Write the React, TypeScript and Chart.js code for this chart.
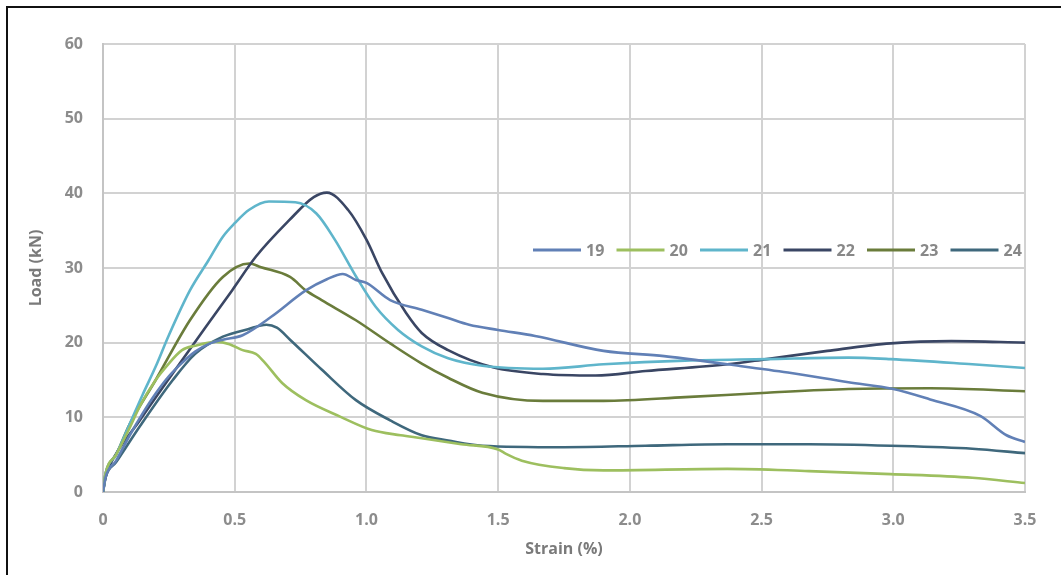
import React, { useEffect, useRef } from "react";
import { Chart, registerables } from "chart.js";

Chart.register(...registerables);

const seriesLabels = ["19", "20", "21", "22", "23", "24"];
const seriesColors = ["#6180b6", "#9dbf5f", "#5fb5cb", "#3a4664", "#6a7c3b", "#3f687c"];

const strain19 = [0, 0.01, 0.05, 0.1, 0.15, 0.2, 0.25, 0.3, 0.35, 0.4, 0.455, 0.53, 0.64, 0.77, 0.85, 0.91, 0.96, 1.0, 1.09, 1.21, 1.31, 1.39, 1.5, 1.64, 1.9, 2.13, 2.37, 2.6, 2.83, 3.0, 3.14, 3.33, 3.43, 3.5];
const load19 = [0, 2, 4.2, 7.5, 10.5, 13.2, 15.5, 17.3, 18.8, 19.8, 20.4, 21, 23.5, 27, 28.5, 29.2, 28.4, 28, 25.7, 24.4, 23.3, 22.4, 21.7, 20.9, 18.9, 18.2, 17.1, 16, 14.7, 13.8, 12.4, 10.2, 7.6, 6.7];

const strain20 = [0, 0.01, 0.05, 0.1, 0.14, 0.2, 0.24, 0.3, 0.35, 0.43, 0.48, 0.53, 0.58, 0.61, 0.68, 0.77, 0.9, 1.02, 1.13, 1.21, 1.36, 1.5, 1.53, 1.59, 1.75, 1.9, 2.37, 2.68, 2.99, 3.3, 3.5];
const load20 = [0, 2.5, 5, 8.5, 11.5, 15, 16.8, 19, 19.6, 20.1, 19.8, 19, 18.5, 17.5, 14.6, 12.3, 10.1, 8.3, 7.6, 7.2, 6.4, 5.7, 5.1, 4.2, 3.2, 2.9, 3.1, 2.8, 2.4, 1.9, 1.2];

const strain21 = [0, 0.01, 0.05, 0.1, 0.15, 0.2, 0.25, 0.33, 0.4, 0.455, 0.5, 0.555, 0.63, 0.73, 0.81, 0.88, 0.96, 1.035, 1.12, 1.21, 1.31, 1.44, 1.67, 1.9, 2.21, 2.52, 2.83, 2.99, 3.3, 3.5];
const load21 = [0, 2.5, 5, 9, 13, 16.8, 21, 27, 31, 34.2, 36, 37.8, 38.9, 38.8, 37.3, 33.8, 28.9, 24.8, 21.7, 19.5, 17.9, 16.9, 16.5, 17.1, 17.6, 17.8, 18, 17.8, 17.1, 16.6];

const strain22 = [0, 0.01, 0.025, 0.14, 0.265, 0.39, 0.49, 0.58, 0.707, 0.8, 0.85, 0.93, 1.0, 1.06, 1.15, 1.21, 1.31, 1.48, 1.67, 1.87, 2.06, 2.37, 2.52, 2.75, 2.99, 3.22, 3.5];
const load22 = [0, 2, 3.5, 9.6, 15.9, 22.1, 27, 31.5, 36.4, 39.5, 40.1, 37.8, 33.8, 29.3, 24, 21.3, 19, 16.7, 15.8, 15.6, 16.2, 17.1, 17.8, 18.9, 19.9, 20.2, 20.0];

const strain23 = [0, 0.01, 0.05, 0.1, 0.2, 0.33, 0.455, 0.555, 0.6, 0.71, 0.77, 0.83, 0.96, 1.09, 1.21, 1.31, 1.44, 1.67, 1.9, 2.21, 2.52, 2.83, 3.14, 3.5];
const load23 = [0, 2.5, 5, 9, 15, 23, 28.8, 30.6, 30.1, 28.8, 27, 25.7, 23, 19.9, 17.2, 15.3, 13.3, 12.2, 12.2, 12.7, 13.3, 13.8, 13.9, 13.5];

const strain24 = [0, 0.01, 0.05, 0.14, 0.265, 0.35, 0.455, 0.55, 0.62, 0.66, 0.71, 0.83, 0.96, 1.09, 1.21, 1.31, 1.44, 1.75, 2.06, 2.37, 2.68, 2.99, 3.3, 3.5];
const load24 = [0, 2, 4, 8.8, 15, 18.5, 20.8, 21.8, 22.4, 22, 20.4, 16.4, 12.3, 9.6, 7.6, 6.9, 6.2, 6, 6.2, 6.4, 6.4, 6.2, 5.8, 5.2];

const strainSets = [strain19, strain20, strain21, strain22, strain23, strain24];
const loadSets = [load19, load20, load21, load22, load23, load24];

const xTitle = "Strain (%)";
const yTitle = "Load (kN)";

const W = 1061;
const H = 575;
const FONT = "'Open Sans', 'DejaVu Sans', sans-serif";

const framePlugin = {
  id: "frame",
  beforeDraw(chart: any) {
    const ctx = chart.ctx;
    ctx.save();
    ctx.fillStyle = "#ffffff";
    ctx.fillRect(0, 0, chart.width, chart.height);
    ctx.strokeStyle = "#111111";
    ctx.lineWidth = 2;
    ctx.beginPath();
    ctx.moveTo(7, 6);
    ctx.lineTo(7, chart.height);
    ctx.moveTo(6, 7);
    ctx.lineTo(chart.width, 7);
    ctx.stroke();
    ctx.restore();
  },
};

const legendPlugin = {
  id: "innerLegend",
  afterDatasetsDraw(chart: any) {
    const ctx = chart.ctx;
    const y = 250;
    let x = 533;
    ctx.save();
    ctx.font = `bold 16px ${FONT}`;
    ctx.textBaseline = "middle";
    ctx.textAlign = "left";
    chart.data.datasets.forEach((ds: any) => {
      ctx.strokeStyle = ds.borderColor;
      ctx.lineWidth = 3;
      ctx.beginPath();
      ctx.moveTo(x, y);
      ctx.lineTo(x + 48, y);
      ctx.stroke();
      ctx.fillStyle = "#888888";
      ctx.fillText(ds.label, x + 53, y + 1);
      x += 83.5;
    });
    ctx.restore();
  },
};

export default function App() {
  const ref = useRef<HTMLCanvasElement | null>(null);
  useEffect(() => {
    if (!ref.current) return;
    const datasets = seriesLabels.map((label, i) => ({
      label,
      data: strainSets[i].map((x, j) => ({ x, y: loadSets[i][j] })),
      borderColor: seriesColors[i],
      backgroundColor: seriesColors[i],
      borderWidth: 2.6,
      pointRadius: 0,
      tension: 0.4,
      cubicInterpolationMode: "monotone" as const,
      fill: false,
    }));
    const chart = new Chart(ref.current, {
      type: "line",
      data: { datasets },
      options: {
        responsive: false,
        animation: false,
        layout: { padding: { left: 0, right: 36, top: 44, bottom: 0 } },
        plugins: { legend: { display: false }, tooltip: { enabled: false } },
        scales: {
          x: {
            type: "linear",
            min: 0,
            max: 3.5,
            afterFit: (s: any) => { s.height = H - 492; },
            ticks: {
              stepSize: 0.5,
              color: "#8c8c8c",
              font: { family: FONT, size: 16, weight: "bold" },
              padding: 19,
              maxRotation: 0,
              callback: (v: any) => (Number(v) === 0 ? "0" : Number(v).toFixed(1)),
            },
            grid: { color: "#d2d2d2", lineWidth: 2, drawTicks: false },
            border: { color: "#c4c4c4", width: 2 },
            title: {
              display: true,
              text: xTitle,
              color: "#7a7a7a",
              font: { family: FONT, size: 16, weight: "bold" },
              padding: { top: 0, bottom: 16 },
            },
          },
          y: {
            min: 0,
            max: 60,
            afterFit: (s: any) => { s.width = 103; },
            ticks: {
              stepSize: 10,
              color: "#8c8c8c",
              font: { family: FONT, size: 16, weight: "bold" },
              padding: 20,
            },
            grid: { color: "#d2d2d2", lineWidth: 2, drawTicks: false },
            border: { color: "#c4c4c4", width: 2 },
            title: {
              display: true,
              text: yTitle,
              color: "#7a7a7a",
              font: { family: FONT, size: 16, weight: "bold" },
              padding: { top: 27, bottom: 0 },
            },
          },
        },
      },
      plugins: [framePlugin, legendPlugin],
    });
    return () => chart.destroy();
  }, []);
  return (
    <canvas
      ref={ref}
      width={W}
      height={H}
      style={{ position: "fixed", left: 0, top: 0, width: W, height: H, display: "block" }}
    />
  );
}
